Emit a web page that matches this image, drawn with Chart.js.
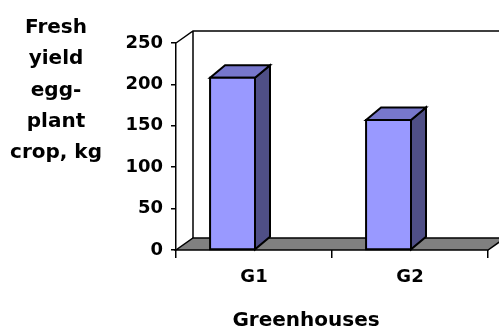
<!DOCTYPE html>
<html><head><meta charset="utf-8">
<script src="https://cdn.jsdelivr.net/npm/chart.js@4"></script>
<style>html,body{margin:0;padding:0;background:#fff}#wrap{width:499px;height:329px}</style>
</head><body><div id="wrap"><canvas id="c" width="499" height="329"></canvas></div>
<script>
const categories = ['G1', 'G2'];
const yieldValues = [208, 157];
const yTicks = [0, 50, 100, 150, 200, 250];
const yTitleLines = ['Fresh', 'yield', 'egg-', 'plant', 'crop, kg'];
const xTitle = 'Greenhouses';

const FONT = '"DejaVu Sans", sans-serif';

const depth3d = {
  id: 'depth3d',
  beforeDatasetsDraw(chart) {
    const { ctx, chartArea: a } = chart;
    const dx = 17, dy = -12;
    ctx.save();
    ctx.lineWidth = 1.5; ctx.strokeStyle = '#000'; ctx.lineJoin = 'miter';
    ctx.beginPath();
    ctx.moveTo(a.left, a.bottom); ctx.lineTo(a.right, a.bottom);
    ctx.lineTo(a.right + dx, a.bottom + dy); ctx.lineTo(a.left + dx, a.bottom + dy);
    ctx.closePath();
    ctx.fillStyle = '#808080'; ctx.fill(); ctx.stroke();
    ctx.beginPath();
    ctx.moveTo(a.left, a.top); ctx.lineTo(a.left + dx, a.top + dy); ctx.lineTo(a.right + dx + 20, a.top + dy);
    ctx.moveTo(a.left + dx, a.top + dy); ctx.lineTo(a.left + dx, a.bottom + dy);
    ctx.stroke();
    ctx.restore();
  },
  afterDatasetsDraw(chart) {
    const { ctx } = chart;
    const bx = 15, by = -12.5;
    const meta = chart.getDatasetMeta(0);
    ctx.save();
    ctx.lineWidth = 2; ctx.strokeStyle = '#000'; ctx.lineJoin = 'miter';
    const poly = (pts, fill) => {
      ctx.beginPath();
      ctx.moveTo(pts[0][0], pts[0][1]);
      for (let i = 1; i < pts.length; i++) ctx.lineTo(pts[i][0], pts[i][1]);
      ctx.closePath();
      ctx.fillStyle = fill; ctx.fill(); ctx.stroke();
    };
    meta.data.forEach(el => {
      const { x, y, base, width } = el.getProps(['x', 'y', 'base', 'width'], true);
      const l = x - width + 1, r = x + 1;
      poly([[r, y], [r + bx, y + by], [r + bx, base + by], [r, base]], '#4F4F86');
      poly([[l, y], [r, y], [r + bx, y + by], [l + bx, y + by]], '#7777CC');
      poly([[l, y], [r, y], [r, base], [l, base]], '#9999FF');
    });
    ctx.restore();
  },
  afterDraw(chart) {
    const { ctx } = chart;
    ctx.save();
    ctx.fillStyle = '#000';
    ctx.font = 'bold 20px ' + FONT;
    ctx.textAlign = 'center';
    ctx.textBaseline = 'alphabetic';
    yTitleLines.forEach((t, i) => ctx.fillText(t, 56, 33 + i * 31.3));
    ctx.fillText(xTitle, 306, 326);
    ctx.restore();
  }
};

new Chart(document.getElementById('c'), {
  type: 'bar',
  data: {
    labels: categories,
    datasets: [{
      data: yieldValues,
      backgroundColor: 'rgba(0,0,0,0)',
      borderWidth: 0,
      categoryPercentage: 1,
      barPercentage: 0.288
    }]
  },
  options: {
    responsive: false,
    animation: false,
    devicePixelRatio: 1,
    layout: { padding: { left: 0, right: 11, top: 43, bottom: 0 } },
    plugins: { legend: { display: false }, tooltip: { enabled: false }, title: { display: false } },
    scales: {
      x: {
        type: 'category',
        offset: true,
        grid: { offset: true, drawOnChartArea: false, drawTicks: true, tickLength: 8, color: '#000', lineWidth: 1.5 },
        border: { display: false },
        ticks: { color: '#000', font: { family: FONT, size: 18, weight: 'bold' }, padding: 9, maxRotation: 0 },
        afterFit: s => { s.height = 79; }
      },
      y: {
        type: 'linear',
        min: 0, max: 250,
        afterBuildTicks: s => { s.ticks = yTicks.map(v => ({ value: v })); },
        grid: { drawOnChartArea: false, drawTicks: true, tickLength: 5, color: '#000', lineWidth: 1.5 },
        border: { display: true, color: '#000', width: 1.5 },
        ticks: { color: '#000', font: { family: FONT, size: 18, weight: 'bold' }, padding: 8 },
        afterFit: s => { s.width = 176; }
      }
    }
  },
  plugins: [depth3d]
});
</script>
</body></html>
